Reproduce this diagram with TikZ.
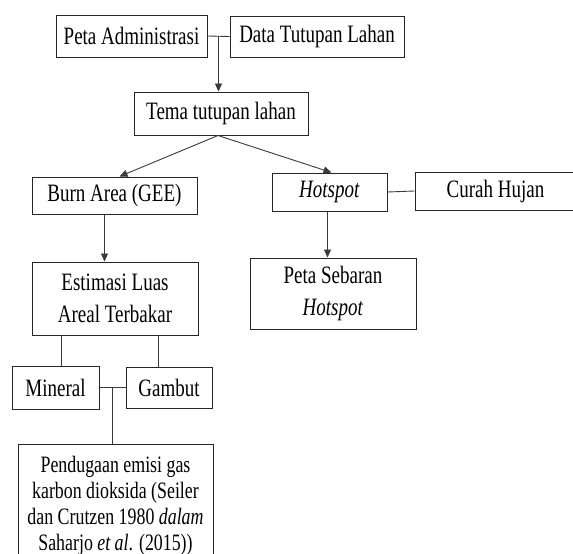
\documentclass[tikz,border=0pt]{standalone}
\usepackage{fontspec}
\setmainfont{Liberation Serif}[FakeStretch=0.76]
\usetikzlibrary{arrows.meta,calc}
\definecolor{flink}{HTML}{262626}
\definecolor{flline}{HTML}{3A3A3A}
\tikzset{
  fl box/.style={draw=flink, line width=1pt, fill=white, inner sep=0pt,
    align=center, text=black, font=\fontsize{25}{32}\selectfont},
  fl small/.style={fl box, font=\fontsize{23.5}{26}\selectfont},
  fl arrow/.style={-{Triangle[length=8pt,width=7pt]}, line width=0.9pt, draw=flline},
  fl line/.style={line width=0.9pt, draw=flline}
}

\begin{document}
\begin{tikzpicture}[x=1pt, y=1pt]
  \useasboundingbox (0,0) rectangle (573,-554);
  % top row
  \node[fl box, minimum width=151pt, minimum height=42pt] (adm) at (131.5,-36) {Peta Administrasi};
  \node[fl box, minimum width=174pt, minimum height=41pt] (data) at (317,-36.5) {Data Tutupan Lahan};
  \node[fl box, minimum width=174pt, minimum height=43pt] (tema) at (221,-113.5) {Tema tutupan lahan};
  % left branch
  \node[fl box, minimum width=165pt, minimum height=37pt] (burn) at (114.5,-195.5) {Burn Area (GEE)};
  \node[fl box, minimum width=166pt, minimum height=73pt] (est) at (115,-298.5) {Estimasi Luas\\Areal Terbakar};
  \node[fl box, minimum width=87pt, minimum height=43pt] (min) at (55.5,-387.5) {Mineral};
  \node[fl box, minimum width=86pt, minimum height=41pt] (gam) at (169,-387.5) {Gambut};
  \node[fl small, minimum width=195pt, minimum height=122pt, anchor=north] (pend) at (115.5,-444)
    {Pendugaan emisi gas\\karbon dioksida (Seiler\\dan Crutzen 1980 \textit{dalam}\\Saharjo \textit{et al}. (2015))};
  % right branch
  \node[fl box, minimum width=115pt, minimum height=38pt] (hot) at (329.5,-192) {\textit{Hotspot}};
  \node[fl box, minimum width=161pt, minimum height=38pt] (curah) at (495.5,-191) {Curah Hujan};
  \node[fl box, minimum width=166pt, minimum height=71pt] (seb) at (333,-293.5) {Peta Sebaran\\\textit{Hotspot}};

  % connectors
  \coordinate (j1) at ($(adm.east)!0.5!(data.west)$);
  \draw[fl line] (adm.east) -- (data.west);
  \draw[fl arrow] (j1) -- (j1 |- tema.north);
  \draw[fl arrow] ([xshift=-3pt]tema.south) -- ([xshift=5pt]burn.north);
  \draw[fl arrow] ([xshift=-3pt]tema.south) -- ([xshift=2pt]hot.north);
  \draw[fl arrow] ([xshift=-10pt]burn.south) -- ([xshift=-10pt]burn.south |- est.north);
  \draw[fl line] (hot.east) -- (curah.west);
  \draw[fl arrow] ([xshift=-2pt]hot.south) -- ([xshift=-2pt]hot.south |- seb.north);
  \draw[fl line] ([xshift=5.5pt]min.north) -- ([xshift=5.5pt]min.north |- est.south);
  \draw[fl line] ([xshift=-11pt]gam.north) -- ([xshift=-11pt]gam.north |- est.south);
  \coordinate (j2) at ($(min.east)!0.5!(gam.west)$);
  \draw[fl line] (min.east) -- (gam.west);
  \draw[fl line] (j2) -- (j2 |- pend.north);
\end{tikzpicture}
\end{document}
